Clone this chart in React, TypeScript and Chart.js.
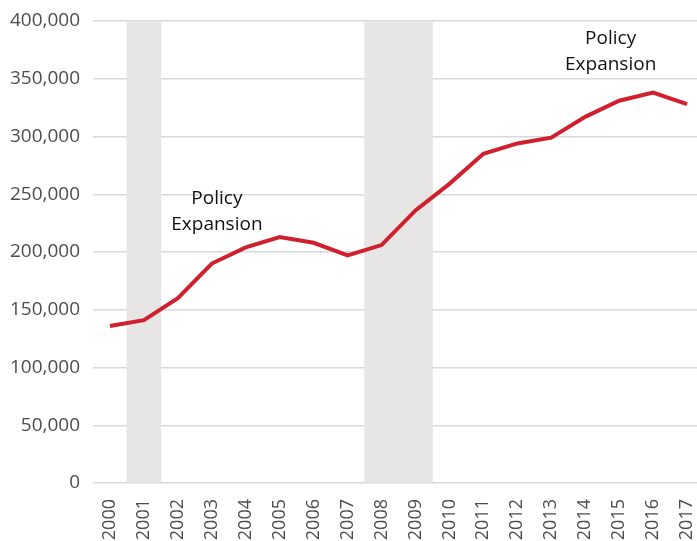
import React, { useEffect, useRef } from "react";
import { Chart, registerables } from "chart.js";

Chart.register(...registerables);

const years = ["2000","2001","2002","2003","2004","2005","2006","2007","2008","2009","2010","2011","2012","2013","2014","2015","2016","2017"];
const values = [136000,141000,160000,190000,204000,213000,208000,197000,206000,236000,259000,285000,294000,299000,317000,331000,338000,328000];
const recession = [0,1,0,0,0,0,0,0,1,1,0,0,0,0,0,0,0,0];
const yTicks = [0,50000,100000,150000,200000,250000,300000,350000,400000];
const annotations = [
  { lines: ["Policy", "Expansion"], xIndex: 3.15, yValue: 246000 },
  { lines: ["Policy", "Expansion"], xIndex: 14.75, yValue: 385000 },
];

const annotationPlugin = {
  id: "policyLabels",
  afterDatasetsDraw(chart: any) {
    const { ctx, scales } = chart;
    const xs = scales.x;
    const ys = scales.y;
    const step = xs.getPixelForValue(1) - xs.getPixelForValue(0);
    ctx.save();
    ctx.fillStyle = "#111111";
    ctx.font = "19px 'Open Sans'";
    ctx.textAlign = "center";
    ctx.textBaseline = "middle";
    annotations.forEach((a) => {
      const x = xs.getPixelForValue(0) + a.xIndex * step;
      const y = ys.getPixelForValue(a.yValue);
      a.lines.forEach((t, i) => ctx.fillText(t, x, y + i * 26));
    });
    ctx.restore();
  },
};

export default function App() {
  const ref = useRef<HTMLCanvasElement | null>(null);
  useEffect(() => {
    document.body.style.margin = "0";
    const chart = new Chart(ref.current as HTMLCanvasElement, {
      type: "bar",
      data: {
        labels: years,
        datasets: [
          {
            type: "line",
            data: values,
            borderColor: "#d0202e",
            borderWidth: 4,
            pointRadius: 0,
            tension: 0,
            fill: false,
            order: 0,
          } as any,
          {
            type: "bar",
            data: recession.map((r) => (r ? 400000 : null)),
            backgroundColor: "#e7e6e4",
            barPercentage: 1,
            categoryPercentage: 1,
            order: 1,
          },
        ],
      },
      options: {
        animation: false,
        responsive: true,
        maintainAspectRatio: false,
        layout: { padding: { top: 21, right: 0, left: 0, bottom: 0 } },
        plugins: { legend: { display: false }, tooltip: { enabled: false } },
        scales: {
          x: {
            offset: true,
            grid: { display: false },
            border: { display: false },
            ticks: {
              maxRotation: 90,
              minRotation: 90,
              padding: 8,
              color: "#4d4d4d",
              font: { family: "'Open Sans'", size: 18 },
              autoSkip: false,
            },
            afterFit: (s: any) => { s.height = 58; s.paddingLeft = 0; s.paddingRight = 0; },
          },
          y: {
            min: 0,
            max: 400000,
            afterBuildTicks: (s: any) => { s.ticks = yTicks.map((v) => ({ value: v })); },
            grid: { color: "#d9d9d9", lineWidth: 1.5, drawTicks: false },
            border: { display: false },
            ticks: {
              padding: 13,
              color: "#4d4d4d",
              font: { family: "'Open Sans'", size: 19 },
              callback: (v: any) => Number(v).toLocaleString("en-US"),
            },
            afterFit: (s: any) => { s.width = 93; s.paddingTop = 0; s.paddingBottom = 0; },
          },
        },
      },
      plugins: [annotationPlugin],
    });
    return () => chart.destroy();
  }, []);
  return (
    <div style={{ width: 697, height: 541, overflow: "hidden" }}>
      <div style={{ width: 704, height: 541, position: "relative" }}>
        <canvas ref={ref} />
      </div>
    </div>
  );
}
